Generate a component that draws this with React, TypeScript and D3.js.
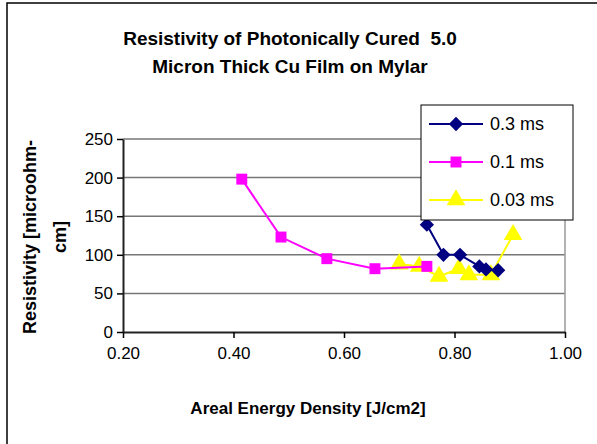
import { useRef, useEffect } from "react";
import * as d3 from "d3";

// series
const x03 = [0.75, 0.78, 0.81, 0.845, 0.857, 0.879];
const y03 = [139, 100, 100, 85, 81, 80];
const x01 = [0.415, 0.486, 0.569, 0.656, 0.75];
const y01 = [198, 123, 95, 82, 85];
const x003 = [0.7, 0.736, 0.772, 0.808, 0.826, 0.866, 0.906];
const y003 = [88, 85, 72, 82, 74, 74, 126];

const xTicks = [0.2, 0.4, 0.6, 0.8, 1.0];
const yTicks = [0, 50, 100, 150, 200, 250];

const seriesNames = ["0.3 ms", "0.1 ms", "0.03 ms"];
const seriesColors = ["#000080", "#FF00FF", "#FFFF00"];
const seriesShapes = [d3.symbolDiamond2, d3.symbolSquare, d3.symbolTriangle];
const symbolSizes = [130, 120, 150];

const titleLines = ["Resistivity of Photonically Cured  5.0", "Micron Thick Cu Film on Mylar"];
const xTitle = "Areal Energy Density [J/cm2]";
const yTitleLines = ["Resistivity [microohm-", "cm]"];

const FONT = "'Liberation Sans', Arial, sans-serif";

const App = () => {
  const svgRef = useRef(null);

  useEffect(() => {
    const svg = d3.select(svgRef.current);
    svg.selectAll("*").remove();

    const width = 597;
    const height = 444;
    const margin = { top: 139, right: 32, bottom: 112, left: 123 };
    const innerWidth = width - margin.left - margin.right;
    const innerHeight = height - margin.top - margin.bottom;

    // outer chart border
    svg.append("rect")
      .attr("x", 7).attr("y", 3)
      .attr("width", width + 10).attr("height", height + 10)
      .attr("fill", "#fff").attr("stroke", "#000").attr("stroke-width", 1.5);

    const x = d3.scaleLinear().domain([0.2, 1.0]).range([0, innerWidth]);
    const y = d3.scaleLinear().domain([0, 250]).range([innerHeight, 0]);

    const g = svg.append("g").attr("transform", `translate(${margin.left},${margin.top})`);

    // gridlines
    g.append("g")
      .selectAll("line")
      .data(yTicks.filter((d) => d > 0))
      .join("line")
      .attr("x1", 0).attr("x2", innerWidth)
      .attr("y1", (d) => y(d)).attr("y2", (d) => y(d))
      .attr("stroke", "#777").attr("stroke-width", 1.5);

    // plot area right border
    g.append("line")
      .attr("x1", innerWidth).attr("x2", innerWidth)
      .attr("y1", 0).attr("y2", innerHeight)
      .attr("stroke", "#999").attr("stroke-width", 1.5);

    // x axis
    const xAxis = g.append("g")
      .attr("transform", `translate(0,${innerHeight})`)
      .call(d3.axisBottom(x).tickValues(xTicks).tickFormat(d3.format(".2f")).tickSize(6).tickSizeOuter(0));
    xAxis.select(".domain").attr("stroke", "#222").attr("stroke-width", 2);
    xAxis.selectAll(".tick line").attr("stroke", "#000").attr("stroke-width", 1.5);
    xAxis.selectAll(".tick text")
      .attr("font-family", FONT).attr("font-size", 17).attr("fill", "#000")
      .attr("dy", "1.05em");

    // y axis
    const yAxis = g.append("g")
      .call(d3.axisLeft(y).tickValues(yTicks).tickSize(6).tickSizeOuter(0));
    yAxis.select(".domain").attr("stroke", "#222").attr("stroke-width", 2);
    yAxis.selectAll(".tick line").attr("stroke", "#000").attr("stroke-width", 1.5);
    yAxis.selectAll(".tick text")
      .attr("font-family", FONT).attr("font-size", 17).attr("fill", "#000")
      .attr("x", -10);

    const series = [
      { xs: x03, ys: y03 },
      { xs: x01, ys: y01 },
      { xs: x003, ys: y003 },
    ];

    const line = d3.line()
      // @ts-ignore
      .x((d) => x(d[0]))
      // @ts-ignore
      .y((d) => y(d[1]));

    // draw the last series first so 0.3 ms sits on top
    [2, 1, 0].forEach((i) => {
      const s = series[i];
      const pts = s.xs.map((v, k) => [v, s.ys[k]]);
      g.append("path")
        .datum(pts)
        // @ts-ignore
        .attr("d", line)
        .attr("fill", "none")
        .attr("stroke", seriesColors[i])
        .attr("stroke-width", 2);
      g.append("g")
        .selectAll("path")
        .data(pts)
        .join("path")
        .attr("transform", (d) => `translate(${x(d[0])},${y(d[1])})`)
        .attr("d", d3.symbol().type(seriesShapes[i]).size(symbolSizes[i])())
        .attr("fill", seriesColors[i])
        .attr("stroke", "none");
    });

    // legend
    const lg = svg.append("g").attr("transform", "translate(421,105)");
    lg.append("rect")
      .attr("width", 152).attr("height", 115)
      .attr("fill", "#fff").attr("stroke", "#000").attr("stroke-width", 1);
    seriesNames.forEach((name, i) => {
      const cy = 19 + i * 38;
      lg.append("line")
        .attr("x1", 8).attr("x2", 62).attr("y1", cy).attr("y2", cy)
        .attr("stroke", seriesColors[i]).attr("stroke-width", 2);
      lg.append("path")
        .attr("transform", `translate(35,${cy})`)
        .attr("d", d3.symbol().type(seriesShapes[i]).size(symbolSizes[i])())
        .attr("fill", seriesColors[i]);
      lg.append("text")
        .attr("x", 69).attr("y", cy).attr("dy", "0.35em")
        .attr("font-family", FONT).attr("font-size", 18)
        .text(name);
    });

    // chart title
    svg.append("g")
      .selectAll("text")
      .data(titleLines)
      .join("text")
      .attr("x", 290)
      .attr("y", (d, i) => 45 + i * 28)
      .attr("text-anchor", "middle")
      .attr("font-family", FONT).attr("font-size", 19).attr("font-weight", "bold")
      .style("white-space", "pre")
      .text((d) => d);

    // axis titles
    svg.append("text")
      .attr("x", 308).attr("y", 414)
      .attr("text-anchor", "middle")
      .attr("font-family", FONT).attr("font-size", 17).attr("font-weight", "bold")
      .text(xTitle);

    svg.append("g")
      .selectAll("text")
      .data(yTitleLines)
      .join("text")
      .attr("transform", (d, i) => `translate(${36 + i * 30},237) rotate(-90)`)
      .attr("text-anchor", "middle")
      .attr("font-family", FONT).attr("font-size", 18).attr("font-weight", "bold")
      .text((d) => d);
  }, []);

  return (
    <div style={{ position: "absolute", left: 0, top: 0 }}>
      <svg ref={svgRef} width={597} height={444} style={{ display: "block" }}></svg>
    </div>
  );
};

export default App;
